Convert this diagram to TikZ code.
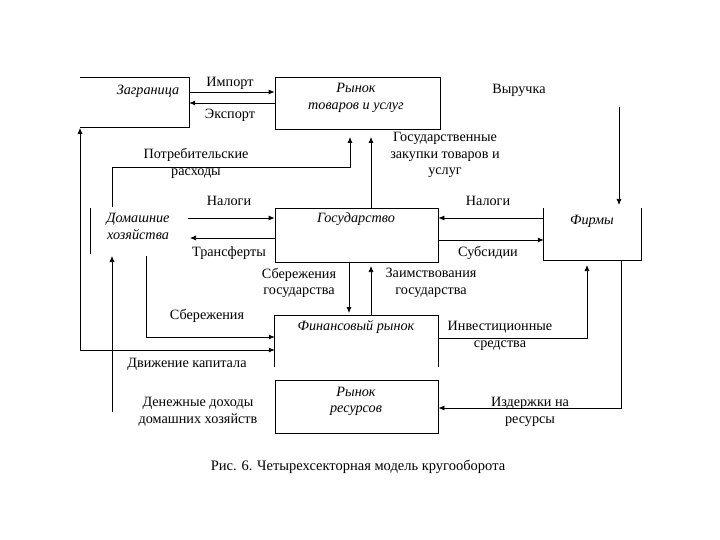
\documentclass[tikz,border=0pt]{standalone}
\usepackage{fontspec}
\setmainfont{Liberation Serif}
\usetikzlibrary{arrows.meta}
\begin{document}
\begin{tikzpicture}[x=1pt,y=-1pt,
  lbl/.style={inner sep=0pt,align=center,font=\fontsize{14.2}{16.8}\selectfont},
  ital/.style={inner sep=0pt,align=center,font=\fontsize{14.2}{16.5}\selectfont\itshape},
  ln/.style={line width=0.75pt},
  arr/.style={line width=0.75pt,-{Latex[length=6pt,width=5pt]}}]
\useasboundingbox[fill=white] (0,0) rectangle (720,540);

% box frames (nodes used as anchors)
\node[inner sep=0pt,minimum width=109pt,minimum height=49pt] (zag) at (134.5,102.5) {};
\node[inner sep=0pt,minimum width=165pt,minimum height=52pt,draw,line width=0.75pt] (rt) at (357.5,103) {};
\node[inner sep=0pt,minimum width=163pt,minimum height=54pt,draw,line width=0.75pt] (gov) at (356.5,235) {};
\node[inner sep=0pt,minimum width=163pt,minimum height=51pt] (fin) at (356.5,341.5) {};
\node[inner sep=0pt,minimum width=163pt,minimum height=53pt,draw,line width=0.75pt] (res) at (356.5,406.5) {};
\node[inner sep=0pt,minimum width=97pt,minimum height=52pt] (firm) at (592.5,234) {};
\node[inner sep=0pt,minimum width=0pt,minimum height=46pt] (hh) at (90,231) {};

% open frames
\draw[ln] (zag.north west) -- (zag.north east) -- (zag.south east) -- (zag.south west);
\draw[ln] (fin.south west) -- (fin.north west) -- (fin.north east) -- (fin.south east);
\draw[ln] (firm.north west) -- (firm.south west) -- (firm.south east) -- (firm.north east);
\draw[ln] (hh.north) -- (hh.south);

% box texts
\node[ital] (tzag) at (148,91) {Заграница};
\node[ital] (trt) at (356,98) {Рынок\\товаров и услуг};
\node[ital] (thh) at (138,226.5) {Домашние\\хозяйства};
\node[ital] (tgov) at (356,219) {Государство};
\node[ital] (tfirm) at (592,221) {Фирмы};
\node[ital] (tfin) at (356,327) {Финансовый рынок};
\node[ital] (tres) at (356,401.5) {Рынок\\ресурсов};

% coordinates for free ends and bends
\coordinate (c1) at (112,207);
\coordinate (c2) at (112,167);
\coordinate (c3) at (350,167);
\coordinate (c4) at (350,137);
\coordinate (g1) at (371,137);
\coordinate (v1) at (619,107);
\coordinate (v2) at (619,205);
\coordinate (n1) at (188,218);
\coordinate (t1) at (190,238);
\coordinate (s1) at (349,313);
\coordinate (z1) at (371,266);
\coordinate (i1) at (587,338);
\coordinate (i2) at (587,265);
\coordinate (k1) at (621,408);
\coordinate (b1) at (146,256);
\coordinate (b2) at (146,337);
\coordinate (m1) at (80,350);
\coordinate (m2) at (80,128);
\coordinate (d1) at (112,412);
\coordinate (d2) at (112,256);

% connectors
\draw[arr] (zag.east |- 0,92) -- (rt.west |- 0,92);
\draw[arr] (rt.west |- 0,103) -- (zag.east |- 0,103);
\draw[arr] (c1) -- (c2) -- (c3) -- (c4);
\draw[arr] (gov.north -| g1) -- (g1);
\draw[arr] (v1) -- (v2);
\draw[arr] (n1) -- (gov.west |- n1);
\draw[arr] (gov.west |- t1) -- (t1);
\draw[arr] (firm.west |- 0,218) -- (gov.east |- 0,218);
\draw[arr] (gov.east |- 0,240) -- (firm.west |- 0,240);
\draw[arr] (gov.south -| s1) -- (s1);
\draw[arr] (fin.north -| z1) -- (z1);
\draw[arr] (fin.east |- i1) -- (i1) -- (i2);
\draw[arr] (firm.south -| k1) -- (k1) -- (res.east |- k1);
\draw[arr] (b1) -- (b2) -- (fin.west |- b2);
\draw[arr] (m1) -- (fin.west |- m1);
\draw[arr] (m1) -- (m2);
\draw[arr] (d1) -- (d2);

% labels
\node[lbl] (limp) at (230,83) {Импорт};
\node[lbl] (lexp) at (230,115) {Экспорт};
\node[lbl] (lrev) at (519,90) {Выручка};
\node[lbl] (lgp) at (445,155) {Государственные\\закупки товаров и\\услуг};
\node[lbl] (lcons) at (196,163.5) {Потребительские\\расходы};
\node[lbl] (ltax1) at (229,201) {Налоги};
\node[lbl] (ltr) at (229,253) {Трансферты};
\node[lbl] (ltax2) at (488,201) {Налоги};
\node[lbl] (lsub) at (488,253) {Субсидии};
\node[lbl] (lgs) at (299,283) {Сбережения\\государства};
\node[lbl] (lgb) at (431,283) {Заимствования\\государства};
\node[lbl] (lsav) at (207,316) {Сбережения};
\node[lbl] (lcap) at (187,364) {Движение капитала};
\node[lbl] (linv) at (500,336) {Инвестиционные\\средства};
\node[lbl] (linc) at (198,412) {Денежные доходы\\домашних хозяйств};
\node[lbl] (lcost) at (530,412) {Издержки на\\ресурсы};
\node[lbl,font=\fontsize{14.5}{17}\selectfont] (cap) at (358,467) {Рис. 6. Четырехсекторная модель кругооборота};
\end{tikzpicture}
\end{document}
